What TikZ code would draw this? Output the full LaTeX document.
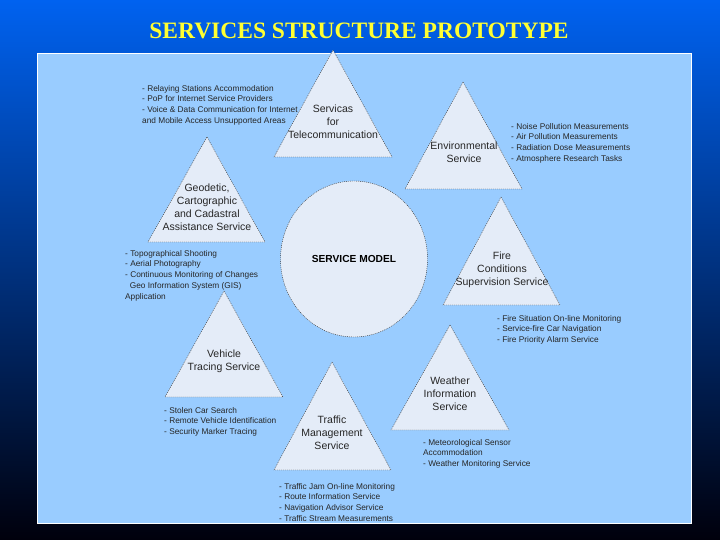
\documentclass[tikz,border=0pt]{standalone}
\usepackage{fontspec}
\setmainfont{Liberation Sans}
\newfontfamily\titlefont{Liberation Serif}
\usetikzlibrary{shapes.geometric}

\definecolor{slidetop}{RGB}{0,98,240}
\definecolor{slidebottom}{RGB}{0,0,12}
\definecolor{panelblue}{RGB}{153,204,255}
\definecolor{trifill}{RGB}{228,236,248}
\definecolor{titleyellow}{RGB}{255,255,50}

\tikzset{
  tri/.style={fill=trifill, draw=black!80, line width=.4pt, dash pattern=on 1pt off 1pt},
  tritext/.style={align=center, inner sep=0pt, font=\fontsize{10.5}{13}\selectfont, text=black!85},
  items/.style={align=left, anchor=north west, inner sep=0pt, font=\fontsize{8.3}{10.7}\selectfont, text=black!85},
}

\begin{document}
\begin{tikzpicture}[x=1pt,y=-1pt]
  % slide background and panel
  \shade[top color=slidetop, bottom color=slidebottom] (0,0) rectangle (720,540);
  \useasboundingbox (0,0) rectangle (720,540);
  \draw[white, line width=.6pt, fill=panelblue] (37,53) rectangle (691,523);

  \node[font=\titlefont\bfseries\fontsize{23.5}{26}\selectfont, text=titleyellow] (title) at (359,31) {SERVICES STRUCTURE PROTOTYPE};

  % lists of tasks
  \node[items] (telelist) at (142,85) {- Relaying Stations Accommodation\\
    - PoP for Internet Service Providers\\
    - Voice \& Data Communication for Internet\\
    and Mobile Access Unsupported Areas};
  \node[items] (envlist) at (511,123) {- Noise Pollution Measurements\\
    - Air Pollution Measurements\\
    - Radiation Dose Measurements\\
    - Atmosphere Research Tasks};
  \node[items] (geolist) at (125,250) {- Topographical Shooting\\
    - Aerial Photography\\
    - Continuous Monitoring of Changes\\
    \ \ Geo Information System (GIS)\\
    Application};
  \node[items] (firelist) at (497,315) {- Fire Situation On-line Monitoring\\
    - Service-fire Car Navigation\\
    - Fire Priority Alarm Service};
  \node[items] (vehlist) at (164,407) {- Stolen Car Search\\
    - Remote Vehicle Identification\\
    - Security Marker Tracing};
  \node[items] (weatherlist) at (423,439) {- Meteorological Sensor\\
    Accommodation\\
    - Weather Monitoring Service};
  \node[items] (trafficlist) at (279,483) {- Traffic Jam On-line Monitoring\\
    - Route Information Service\\
    - Navigation Advisor Service\\
    - Traffic Stream Measurements};

  % service triangles
  \draw[tri] (333,50) -- (392,157) -- (274,157) -- cycle;
  \draw[tri] (463,82) -- (522,189) -- (405,189) -- cycle;
  \draw[tri] (207,137) -- (265,242) -- (148,242) -- cycle;
  \draw[tri] (501,197) -- (560,305) -- (443,305) -- cycle;
  \draw[tri] (224,291) -- (283,397) -- (165,397) -- cycle;
  \draw[tri] (332,362) -- (391,470) -- (274,470) -- cycle;
  \draw[tri] (450,325) -- (509,430) -- (391,430) -- cycle;

  \node[tritext] (tele) at (333,121.5) {Servicas\\for\\Telecommunication};
  \node[tritext] (env) at (464,152.5) {Environmental\\Service};
  \node[tritext] (geo) at (207,207.5) {Geodetic,\\Cartographic\\and Cadastral\\Assistance Service};
  \node[tritext] (fire) at (502,269.5) {Fire\\Conditions\\Supervision Service};
  \node[tritext] (vehicle) at (224,361.5) {Vehicle\\Tracing Service};
  \node[tritext] (traffic) at (332,433) {Traffic\\Management\\Service};
  \node[tritext] (weather) at (450,394) {Weather\\Information\\Service};

  % centre
  \node[ellipse, fill=trifill, draw=black!80, line width=.4pt, dash pattern=on 1pt off 1pt,
    minimum width=147pt, minimum height=156pt, font=\bfseries\fontsize{10.2}{12}\selectfont] (model) at (354,259) {SERVICE MODEL};
\end{tikzpicture}
\end{document}
